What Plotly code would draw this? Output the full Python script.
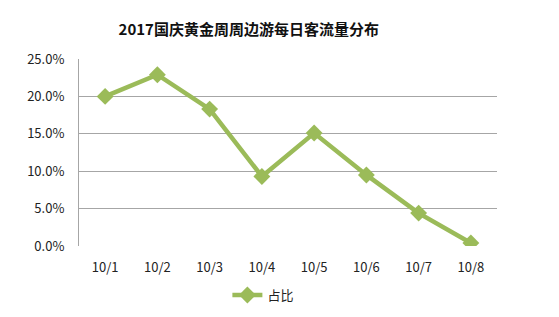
import plotly.graph_objects as go

categories = ["10/1", "10/2", "10/3", "10/4", "10/5", "10/6", "10/7", "10/8"]
values = [0.200, 0.229, 0.183, 0.093, 0.151, 0.095, 0.044, 0.004]
y_ticks = [0, 0.05, 0.10, 0.15, 0.20, 0.25]
y_tick_labels = ["0.0%", "5.0%", "10.0%", "15.0%", "20.0%", "25.0%"]
series_name = "占比"
title = "2017国庆黄金周周边游每日客流量分布"

font_family = "Noto Sans CJK SC, Noto Sans, sans-serif"
color = "#9BBB59"

fig = go.Figure()
fig.add_trace(go.Scatter(
    x=list(range(len(categories))), y=values, name=series_name,
    mode="lines+markers",
    line=dict(color=color, width=4.5),
    marker=dict(symbol="diamond", size=13, color=color),
    showlegend=True,
))

fig.update_layout(
    width=559, height=317,
    margin=dict(l=79, r=62, t=59, b=71, autoexpand=False),
    paper_bgcolor="white", plot_bgcolor="white",
    font=dict(family=font_family, size=13, color="#222222"),
    title=dict(text="<b>" + title + "</b>", x=0.445, xanchor="center",
               y=0.905, yanchor="middle",
               font=dict(size=15, color="#111111", family=font_family)),
    xaxis=dict(
        range=[-0.5, len(categories) - 0.5], automargin=False,
        tickmode="array", tickvals=list(range(len(categories))),
        ticktext=categories, showgrid=False, zeroline=False,
        showline=False, ticks="", ticklen=0, ticklabelstandoff=12,
        tickfont=dict(size=13),
    ),
    yaxis=dict(
        range=[0, 0.25], tickmode="array", tickvals=y_ticks, automargin=False,
        ticktext=y_tick_labels, showgrid=True, gridcolor="#a6a6a6",
        gridwidth=1, zeroline=False, showline=True, linecolor="#a6a6a6",
        linewidth=1, ticks="", ticklabelstandoff=11, tickfont=dict(size=13),
    ),
    legend=dict(orientation="h", x=0.355, xanchor="left", y=-0.262,
                yanchor="middle", font=dict(size=13), itemwidth=30),
)

fig.write_html("out.html")
